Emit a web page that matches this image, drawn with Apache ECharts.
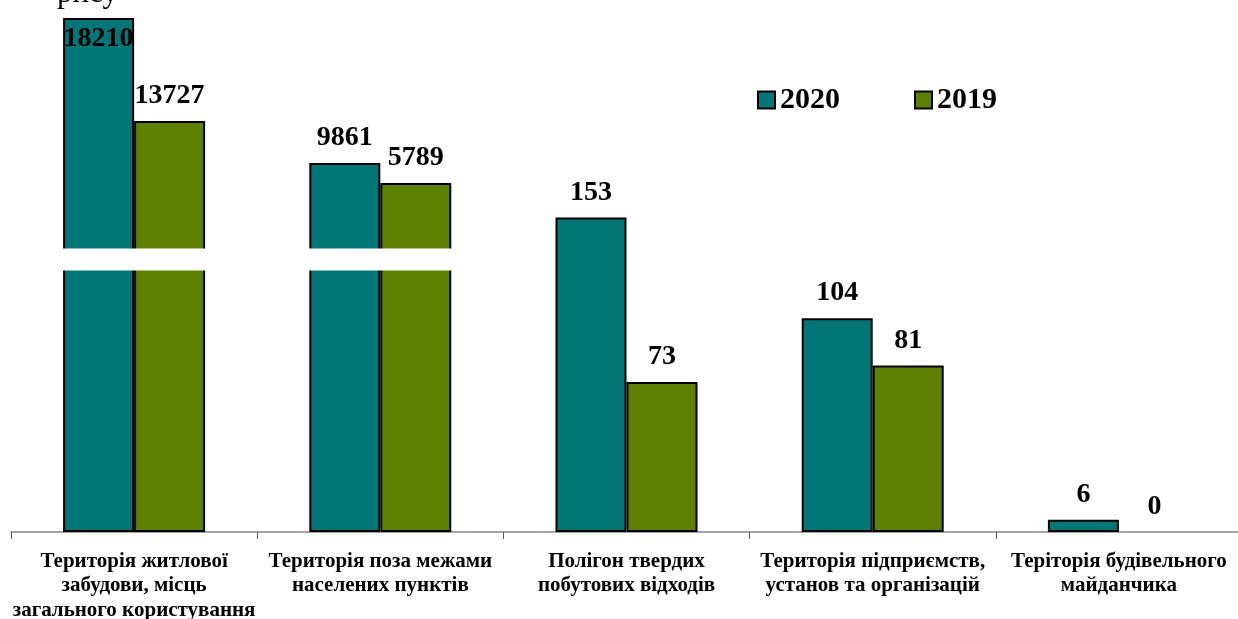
<!DOCTYPE html>
<html>
<head>
<meta charset="utf-8">
<script src="https://cdn.jsdelivr.net/npm/echarts@6/dist/echarts.min.js"></script>
<style>
    html, body { margin: 0; padding: 0; background: #fff; }
    #chart { width: 1238px; height: 619px; }
</style>
</head>
<body>
<div id="chart"></div>
<script>
var categories = [
    'Територія житлової\nзабудови, місць\nзагального користування',
    'Територія поза межами\nнаселених пунктів',
    'Полігон твердих\nпобутових відходів',
    'Територія підприємств,\nустанов та організацій',
    'Теріторія будівельного\nмайданчика'
];
var years = ['2020', '2019'];
var values2020 = [18210, 9861, 153, 104, 6];
var values2019 = [13727, 5789, 73, 81, 0];

var serif = '"Liberation Serif", "Times New Roman", serif';
var colors = ['#007676', '#5e8000'];

// first two groups sit on their own (broken) axis
var broken = values2020.map(function (v) { return v > 1000; });
var topValue = Math.max.apply(null, values2020.concat(values2019));

function part(values, onBroken) {
    return values.map(function (v, i) {
        if (broken[i] !== onBroken) return '-';
        if (v === topValue) return { value: v, label: { position: 'insideTop', distance: 7 } };
        if (v === 0) return { value: v, itemStyle: { borderWidth: 0 } };
        return v;
    });
}

function makeSeries(name, values, color, onBroken) {
    return {
        name: name,
        type: 'bar',
        xAxisIndex: onBroken ? 1 : 0,
        yAxisIndex: onBroken ? 1 : 0,
        z: onBroken ? 2 : 10,
        barWidth: 71,
        barGap: '0%',
        data: part(values, onBroken),
        itemStyle: { color: color, borderColor: '#000', borderWidth: 2 },
        label: {
            show: true,
            position: 'top',
            distance: 11,
            color: '#000',
            fontFamily: serif,
            fontWeight: 'bold',
            fontSize: 28
        }
    };
}

var chart = echarts.init(document.getElementById('chart'));
var option = {
    animation: false,
    backgroundColor: '#fff',
    graphic: [{
        type: 'text',
        left: 57,
        top: -22,
        style: { text: 'рису', font: '31px ' + serif, fill: '#000' }
    }],
    legend: {
        data: years,
        left: 752,
        top: 80,
        icon: 'rect',
        itemWidth: 17,
        itemHeight: 17,
        itemGap: 74,
        textStyle: { fontFamily: serif, fontWeight: 'bold', fontSize: 30, color: '#000' }
    },
    grid: { left: 11, top: 18, width: 1231, height: 514, outerBoundsMode: 'none' },
    xAxis: [{
        type: 'category',
        data: categories,
        axisLine: { lineStyle: { color: '#868686', width: 1.5 } },
        axisTick: { show: true, length: 7, lineStyle: { color: '#555' } },
        axisLabel: {
            interval: 0,
            margin: 17,
            color: '#000',
            fontFamily: serif,
            fontWeight: 'bold',
            fontSize: 21,
            lineHeight: 24.5
        }
    }, {
        type: 'category',
        data: categories,
        show: false
    }],
    yAxis: [{
        type: 'value',
        min: 0,
        max: 250,
        axisLine: { show: false },
        axisTick: { show: false },
        axisLabel: { show: false },
        splitLine: { show: false }
    }, {
        type: 'value',
        min: 0,
        max: 'dataMax',
        axisLine: { show: false },
        axisTick: { show: false },
        axisLabel: { show: false },
        splitLine: { show: false },
        breaks: [
            { start: 2620, end: 5139, gap: 220 },
            { start: 5800, end: 9672, gap: 0 },
            { start: 9900, end: 13346, gap: 0 },
            { start: 13800, end: 17253, gap: 0 }
        ],
        breakArea: {
            show: true,
            itemStyle: { color: '#fff', borderWidth: 0, opacity: 1 },
            zigzagAmplitude: 0,
            zigzagZ: 5,
            expandOnClick: false
        }
    }],
    series: [
        makeSeries(years[0], values2020, colors[0], false),
        makeSeries(years[1], values2019, colors[1], false),
        makeSeries(years[0], values2020, colors[0], true),
        makeSeries(years[1], values2019, colors[1], true)
    ]
};
chart.setOption(option);
</script>
</body>
</html>
